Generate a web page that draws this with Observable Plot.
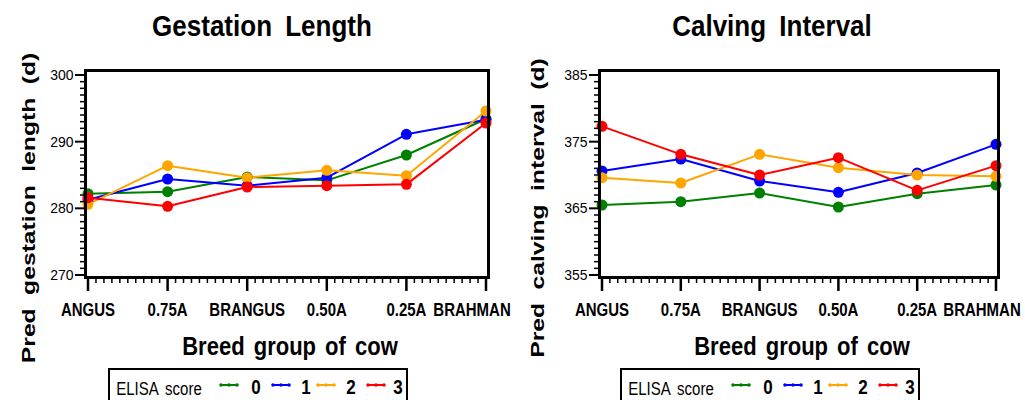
<!DOCTYPE html>
<html>
<head>
<meta charset="utf-8">
<script src="https://cdn.jsdelivr.net/npm/d3@7"></script>
<script src="https://cdn.jsdelivr.net/npm/@observablehq/plot@0.6"></script>
<style>
  html, body { margin: 0; padding: 0; background: white; }
  #root { position: relative; width: 1025px; height: 400px; overflow: hidden; font-family: "Liberation Sans", Arial, sans-serif; color: black; background: white; }
  .panel { position: absolute; top: 0; width: 512px; height: 400px; }
  .chartbox { position: absolute; left: 0; top: 0; }
  .t { position: absolute; white-space: nowrap; line-height: 1; pointer-events: none; }
  .legend { position: absolute; border: 2px solid black; box-sizing: border-box; }
</style>
</head>
<body>
<div id="root"></div>
<script>
const categories = ["ANGUS", "0.75A", "BRANGUS", "0.50A", "0.25A", "BRAHMAN"];
const scores = ["0", "1", "2", "3"];
const colors = ["#008000", "#0000ff", "#ffa500", "#ff0000"];

const gestation0 = [282.2, 282.5, 284.7, 284.2, 288.0, 293.4];
const gestation1 = [281.3, 284.4, 283.4, 284.6, 291.1, 293.3];
const gestation2 = [280.6, 286.4, 284.6, 285.7, 284.9, 294.6];
const gestation3 = [281.6, 280.3, 283.2, 283.4, 283.6, 292.8];

const calving0 = [365.5, 366.0, 367.3, 365.2, 367.2, 368.5];
const calving1 = [370.6, 372.4, 369.1, 367.4, 370.3, 374.6];
const calving2 = [369.6, 368.8, 373.1, 371.1, 370.0, 369.8];
const calving3 = [377.3, 373.1, 370.0, 372.6, 367.7, 371.4];

const gestationTicks = [270, 280, 290, 300];
const calvingTicks = [355, 365, 375, 385];

function rowsOf(series) {
  const rows = [];
  series.forEach((vals, s) => vals.forEach((v, i) => rows.push({i, breed: categories[i], score: scores[s], value: v})));
  return rows;
}

function makePlot(rows, ticks, marginLeft, marginRight) {
  const lo = ticks[0], hi = ticks[ticks.length - 1];
  const minorY = d3.range(lo, hi + 0.001, 1).filter(v => !ticks.includes(v));
  const minorX = d3.range(0, 50).map(k => k / 10).filter(v => Math.abs(v - Math.round(v)) > 1e-6);
  const last = categories.length - 1;
  const svg = Plot.plot({
    width: 512, height: 330,
    marginLeft, marginRight, marginTop: 70, marginBottom: 53,
    style: {fontFamily: "'Liberation Sans', Arial, sans-serif", background: "white", color: "black", overflow: "visible"},
    x: {type: "linear", domain: [0, last], insetLeft: 2.5, insetRight: 2.5, label: null},
    y: {domain: [lo, hi], insetTop: 4.5, insetBottom: 2.5, label: null},
    color: {domain: scores, range: colors},
    marks: [
      Plot.line(rows, {x: "i", y: "value", stroke: "score", z: "score", strokeWidth: 2}),
      Plot.dot(rows, {x: "i", y: "value", fill: "score", r: 5.5}),
      Plot.frame({stroke: "black", strokeWidth: 3}),
      Plot.axisY({ticks: minorY, tickSize: 5, tickFormat: () => "", strokeWidth: 1.5, label: null}),
      Plot.axisY({ticks, tickSize: 10, tickPadding: 2, fontSize: 14, strokeWidth: 2, label: null}),
      Plot.axisX({ticks: minorX, tickSize: 6, tickFormat: () => "", strokeWidth: 1.5, label: null}),
      Plot.axisX({ticks: d3.range(categories.length), tickSize: 14, tickPadding: 12,
        tickFormat: i => i === last ? "" : categories[i],
        fontSize: 15, fontWeight: "bold", strokeWidth: 2.5, label: null}),
      Plot.axisX({ticks: [last], tickSize: 14, tickPadding: 12,
        tickFormat: i => categories[i], dx: -14, strokeOpacity: 0,
        fontSize: 15, fontWeight: "bold", label: null})
    ]
  });
  d3.select(svg).selectAll('g[aria-label="x-axis tick label"] text').each(function() {
    const tr = this.getAttribute("transform") || "";
    this.setAttribute("transform", tr + " scale(1,1.2)");
  });
  d3.select(svg).selectAll('g[aria-label="y-axis tick label"] text').each(function() {
    const tr = this.getAttribute("transform") || "";
    this.setAttribute("transform", tr + " scale(1,1.1)");
  });
  return svg;
}

function addText(panel, str, cx, cy, css, transform) {
  const el = document.createElement("div");
  el.className = "t";
  el.textContent = str;
  el.style.left = cx + "px";
  el.style.top = cy + "px";
  Object.assign(el.style, css);
  el.style.transform = "translate(-50%,-50%) " + (transform || "");
  panel.appendChild(el);
  return el;
}

function legendSymbol(color) {
  const ns = "http://www.w3.org/2000/svg";
  const svg = document.createElementNS(ns, "svg");
  svg.setAttribute("width", 20); svg.setAttribute("height", 8);
  const line = document.createElementNS(ns, "line");
  line.setAttribute("x1", 1); line.setAttribute("x2", 19); line.setAttribute("y1", 4); line.setAttribute("y2", 4);
  line.setAttribute("stroke", color); line.setAttribute("stroke-width", 2);
  svg.appendChild(line);
  [2, 10, 18].forEach(cx => {
    const c = document.createElementNS(ns, "circle");
    c.setAttribute("cx", cx); c.setAttribute("cy", 4); c.setAttribute("r", 1.8); c.setAttribute("fill", color);
    svg.appendChild(c);
  });
  return svg;
}

function buildPanel(left, cfg) {
  const root = document.getElementById("root");
  const panel = document.createElement("div");
  panel.className = "panel";
  panel.style.left = left + "px";
  root.appendChild(panel);
  const holder = document.createElement("div");
  holder.className = "chartbox";
  holder.appendChild(makePlot(cfg.rows, cfg.ticks, cfg.marginLeft, cfg.marginRight));
  panel.appendChild(holder);

  addText(panel, cfg.title, cfg.titleX, 26, {fontSize: "26px", fontWeight: "bold", wordSpacing: "6px"}, "scaleY(1.16)");
  addText(panel, cfg.ylabel, cfg.ylabelX, 208, {fontSize: "19px", fontWeight: "bold", wordSpacing: "5px"}, "rotate(-90deg) scaleX(1.3)");
  addText(panel, "Breed group of cow", 290, 347, {fontSize: "22px", fontWeight: "bold", wordSpacing: "3px"}, "scaleY(1.14)");

  const box = document.createElement("div");
  box.className = "legend";
  box.style.left = "108px"; box.style.top = "368px"; box.style.width = "300px"; box.style.height = "40px";
  panel.appendChild(box);
  addText(panel, "ELISA score", 159, 388, {fontSize: "15px", wordSpacing: "3px"}, "scaleY(1.2)");
  const symX = [229, 281, 326, 376];
  const labX = [256, 306, 351, 398];
  scores.forEach((s, k) => {
    const sym = legendSymbol(colors[k]);
    sym.style.position = "absolute";
    sym.style.left = (symX[k] - 10) + "px";
    sym.style.top = (385 - 4) + "px";
    panel.appendChild(sym);
    addText(panel, s, labX[k], 388, {fontSize: "17px", fontWeight: "bold"}, "scaleY(1.15)");
  });
}

buildPanel(0, {
  rows: rowsOf([gestation0, gestation1, gestation2, gestation3]),
  ticks: gestationTicks, marginLeft: 85, marginRight: 24,
  title: "Gestation Length", titleX: 262,
  ylabel: "Pred gestation length (d)", ylabelX: 28
});
buildPanel(512, {
  rows: rowsOf([calving0, calving1, calving2, calving3]),
  ticks: calvingTicks, marginLeft: 87, marginRight: 26,
  title: "Calving Interval", titleX: 260,
  ylabel: "Pred calving interval (d)", ylabelX: 25
});
</script>
</body>
</html>
